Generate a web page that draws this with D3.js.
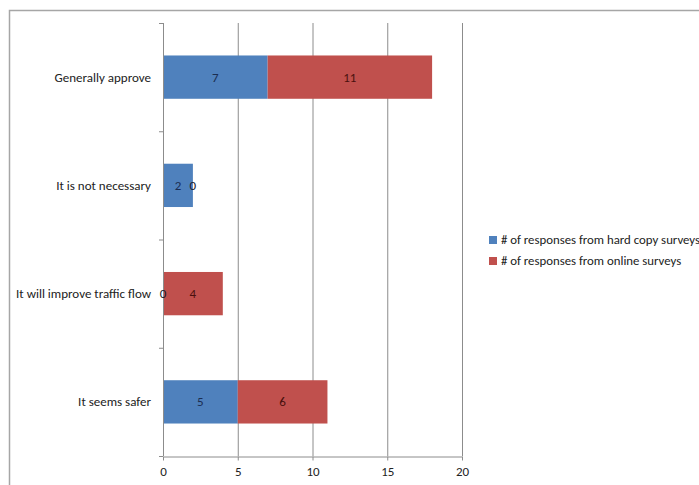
<!DOCTYPE html>
<html>
<head>
<meta charset="utf-8">
<script src="https://cdn.jsdelivr.net/npm/d3@7"></script>
<style>
  body { margin: 0; background: #fff; }
  svg { display: block; font-family: Carlito, Calibri, "Liberation Sans", Arial, sans-serif; }
</style>
</head>
<body>
<svg id="chart" width="699" height="485"></svg>
<script>
// data, bottom-to-top order as in the picture
const categories = ['It seems safer', 'It will improve traffic flow', 'It is not necessary', 'Generally approve'];
const hardCopy = [5, 0, 2, 7];
const online = [6, 4, 0, 11];
const seriesNames = ['# of responses from hard copy surveys', '# of responses from online surveys'];
const xTicks = [0, 5, 10, 15, 20];

const colors = ['#4F81BD', '#C0504D'];
const labelColors = ['#1B2E52', '#4A100E'];

const svg = d3.select('#chart');
const m = { left: 163, right: 462, top: 23, bottom: 456 };

// outer chart frame (top + left edges visible)
svg.append('path')
  .attr('d', 'M9.5,485 V10.5 H699')
  .attr('fill', 'none').attr('stroke', '#a6a6a6').attr('stroke-width', 1.5);

const x = d3.scaleLinear().domain([0, 20]).range([m.left, m.right]);
const y = d3.scaleBand().domain(categories.slice().reverse()).range([m.top, m.bottom]).paddingInner(0.6).paddingOuter(0.3);

// gridlines
svg.append('g').selectAll('line').data(xTicks.slice(1)).join('line')
  .attr('x1', d => x(d) + 0.5).attr('x2', d => x(d) + 0.5)
  .attr('y1', m.top).attr('y2', m.bottom)
  .attr('stroke', '#8c8c8c').attr('stroke-width', 1);

const stack = d3.stack().keys([0, 1])(categories.map((c, i) => [hardCopy[i], online[i]]));

stack.forEach((layer, k) => {
  svg.append('g').selectAll('rect').data(layer).join('rect')
    .attr('x', d => x(d[0]))
    .attr('width', d => x(d[1]) - x(d[0]))
    .attr('y', (d, i) => y(categories[i]))
    .attr('height', y.bandwidth())
    .attr('fill', colors[k]);
});

// x axis
const xAxis = svg.append('g').attr('transform', `translate(0,${m.bottom + 0.5})`)
  .call(d3.axisBottom(x).tickValues(xTicks).tickSize(4).tickSizeOuter(0).tickPadding(6));
xAxis.select('.domain').attr('stroke', '#8c8c8c');
xAxis.selectAll('.tick line').attr('stroke', '#8c8c8c');
xAxis.selectAll('text').attr('font-size', 13).attr('fill', '#222').attr('font-family', 'Carlito, Calibri, "Liberation Sans", sans-serif');

// y axis
const bounds = d3.range(categories.length + 1).map(i => m.top + i * y.step());
svg.append('line').attr('x1', m.left + 0.5).attr('x2', m.left + 0.5).attr('y1', m.top).attr('y2', m.bottom)
  .attr('stroke', '#8c8c8c');
svg.append('g').selectAll('line').data(bounds).join('line')
  .attr('x1', m.left - 4).attr('x2', m.left).attr('y1', d => d + 0.5).attr('y2', d => d + 0.5)
  .attr('stroke', '#8c8c8c');
svg.append('g').selectAll('text').data(categories).join('text')
  .attr('x', m.left - 12).attr('y', d => y(d) + y.bandwidth() / 2).attr('dy', '0.35em')
  .attr('text-anchor', 'end').attr('font-size', 13).attr('fill', '#222')
  .text(d => d);

// data labels on top of everything
stack.forEach((layer, k) => {
  svg.append('g').selectAll('text').data(layer).join('text')
    .attr('x', d => (x(d[0]) + x(d[1])) / 2)
    .attr('y', (d, i) => y(categories[i]) + y.bandwidth() / 2)
    .attr('dy', '0.35em')
    .attr('text-anchor', 'middle')
    .attr('font-size', 13)
    .attr('fill', d => (d[1] - d[0] === 0) ? '#1a1a2a' : labelColors[k])
    .text((d, i) => k === 0 ? hardCopy[i] : online[i]);
});

// legend
const leg = svg.append('g').attr('transform', 'translate(489,240)');
seriesNames.forEach((n, i) => {
  leg.append('rect').attr('x', 0).attr('y', i * 21 - 4).attr('width', 8).attr('height', 8).attr('fill', colors[i]);
  leg.append('text').attr('x', 12).attr('y', i * 21).attr('dy', '0.35em')
    .attr('font-size', 12.8).attr('fill', '#222').text(n);
});
</script>
</body>
</html>
